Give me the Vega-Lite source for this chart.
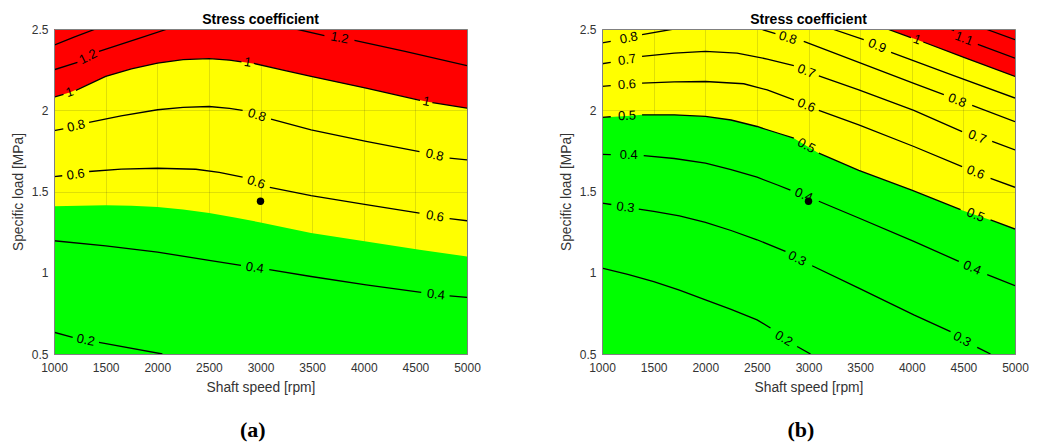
{
"$schema": "https://vega.github.io/schema/vega-lite/v6.json",
"padding": {"left": 10, "top": 12, "right": 5, "bottom": 5},
"config": {
 "font": "Liberation Sans",
 "view": {"fill": "#ffff00", "stroke": "#808080", "strokeWidth": 1},
 "style": {"cell": {"strokeForeground": true}},
 "axis": {"labelFont": "Liberation Sans", "labelFontSize": 12, "labelColor": "#333333", "titleFont": "Liberation Sans", "titleFontSize": 13.8, "titleFontWeight": "normal", "titleColor": "#333333", "ticks": false, "grid": true, "gridColor": "#262626", "gridOpacity": 0.15, "domainColor": "#808080", "zindex": 1},
 "concat": {"spacing": 77}
},
"datasets": {
 "fills": [
  {"p":"a","z":"r","x":1000,"y":2.081},{"p":"a","z":"r","x":1152,"y":2.11},{"p":"a","z":"r","x":1250,"y":2.137},{"p":"a","z":"r","x":1501,"y":2.208},{"p":"a","z":"r","x":1750,"y":2.255},{"p":"a","z":"r","x":2003,"y":2.29},{"p":"a","z":"r","x":2250,"y":2.312},{"p":"a","z":"r","x":2503,"y":2.318},{"p":"a","z":"r","x":2750,"y":2.305},{"p":"a","z":"r","x":3000,"y":2.28},{"p":"a","z":"r","x":3250,"y":2.243},{"p":"a","z":"r","x":3490,"y":2.208},{"p":"a","z":"r","x":4023,"y":2.136},{"p":"a","z":"r","x":4605,"y":2.054},{"p":"a","z":"r","x":5000,"y":2.013},
  {"p":"a","z":"g","x":1000,"y":1.409},{"p":"a","z":"g","x":1501,"y":1.415},{"p":"a","z":"g","x":1750,"y":1.413},{"p":"a","z":"g","x":2003,"y":1.404},{"p":"a","z":"g","x":2250,"y":1.39},{"p":"a","z":"g","x":2503,"y":1.367},{"p":"a","z":"g","x":2750,"y":1.34},{"p":"a","z":"g","x":3000,"y":1.31},{"p":"a","z":"g","x":3490,"y":1.244},{"p":"a","z":"g","x":4023,"y":1.193},{"p":"a","z":"g","x":4540,"y":1.142},{"p":"a","z":"g","x":5000,"y":1.1},
  {"p":"b","z":"r","x":3762,"y":2.5},{"p":"b","z":"r","x":4052,"y":2.434},{"p":"b","z":"r","x":4505,"y":2.325},{"p":"b","z":"r","x":5000,"y":2.208},
  {"p":"b","z":"g","x":1000,"y":1.956},{"p":"b","z":"g","x":1242,"y":1.965},{"p":"b","z":"g","x":1388,"y":1.972},{"p":"b","z":"g","x":1700,"y":1.972},{"p":"b","z":"g","x":2002,"y":1.962},{"p":"b","z":"g","x":2250,"y":1.94},{"p":"b","z":"g","x":2502,"y":1.9},{"p":"b","z":"g","x":2700,"y":1.86},{"p":"b","z":"g","x":2858,"y":1.828},{"p":"b","z":"g","x":2979,"y":1.782},{"p":"b","z":"g","x":3100,"y":1.736},{"p":"b","z":"g","x":3487,"y":1.63},{"p":"b","z":"g","x":4000,"y":1.508},{"p":"b","z":"g","x":4473,"y":1.388},{"p":"b","z":"g","x":4618,"y":1.355},{"p":"b","z":"g","x":4763,"y":1.325},{"p":"b","z":"g","x":5000,"y":1.269}
 ],
 "lines": [
  {"p":"a","id":"a14","x":1000,"y":2.4},{"p":"a","id":"a14","x":1200,"y":2.452},{"p":"a","id":"a14","x":1404,"y":2.5},
  {"p":"a","id":"a12s1","x":1000,"y":2.249},{"p":"a","id":"a12s1","x":1227,"y":2.295},
  {"p":"a","id":"a12s2","x":1436,"y":2.363},{"p":"a","id":"a12s2","x":1800,"y":2.438},{"p":"a","id":"a12s2","x":2100,"y":2.5},
  {"p":"a","id":"a12s3","x":3344,"y":2.5},{"p":"a","id":"a12s3","x":3619,"y":2.459},
  {"p":"a","id":"a12s4","x":3910,"y":2.43},{"p":"a","id":"a12s4","x":4400,"y":2.362},{"p":"a","id":"a12s4","x":5000,"y":2.274},
  {"p":"a","id":"a1s1","x":1000,"y":2.081},{"p":"a","id":"a1s1","x":1092,"y":2.098},
  {"p":"a","id":"a1s2","x":1212,"y":2.122},{"p":"a","id":"a1s2","x":1501,"y":2.208},{"p":"a","id":"a1s2","x":1750,"y":2.255},{"p":"a","id":"a1s2","x":2003,"y":2.29},{"p":"a","id":"a1s2","x":2250,"y":2.312},{"p":"a","id":"a1s2","x":2503,"y":2.318},{"p":"a","id":"a1s2","x":2700,"y":2.309},{"p":"a","id":"a1s2","x":2816,"y":2.298},
  {"p":"a","id":"a1s3","x":2936,"y":2.288},{"p":"a","id":"a1s3","x":3250,"y":2.243},{"p":"a","id":"a1s3","x":3490,"y":2.208},{"p":"a","id":"a1s3","x":4023,"y":2.136},{"p":"a","id":"a1s3","x":4545,"y":2.061},
  {"p":"a","id":"a1s4","x":4665,"y":2.047},{"p":"a","id":"a1s4","x":5000,"y":2.013},
  {"p":"a","id":"a08s1","x":1000,"y":1.875},{"p":"a","id":"a08s1","x":1090,"y":1.885},
  {"p":"a","id":"a08s2","x":1340,"y":1.925},{"p":"a","id":"a08s2","x":1650,"y":1.965},{"p":"a","id":"a08s2","x":2003,"y":2.003},{"p":"a","id":"a08s2","x":2250,"y":2.018},{"p":"a","id":"a08s2","x":2503,"y":2.023},{"p":"a","id":"a08s2","x":2700,"y":2.012},{"p":"a","id":"a08s2","x":2827,"y":1.999},
  {"p":"a","id":"a08s3","x":3102,"y":1.945},{"p":"a","id":"a08s3","x":3490,"y":1.879},{"p":"a","id":"a08s3","x":4023,"y":1.808},{"p":"a","id":"a08s3","x":4540,"y":1.746},
  {"p":"a","id":"a08s4","x":4831,"y":1.705},{"p":"a","id":"a08s4","x":5000,"y":1.694},
  {"p":"a","id":"a06s1","x":1000,"y":1.592},{"p":"a","id":"a06s1","x":1080,"y":1.597},
  {"p":"a","id":"a06s2","x":1340,"y":1.623},{"p":"a","id":"a06s2","x":1650,"y":1.638},{"p":"a","id":"a06s2","x":2003,"y":1.643},{"p":"a","id":"a06s2","x":2374,"y":1.637},{"p":"a","id":"a06s2","x":2600,"y":1.618},{"p":"a","id":"a06s2","x":2827,"y":1.588},
  {"p":"a","id":"a06s3","x":3090,"y":1.525},{"p":"a","id":"a06s3","x":3490,"y":1.475},{"p":"a","id":"a06s3","x":4023,"y":1.419},{"p":"a","id":"a06s3","x":4540,"y":1.367},
  {"p":"a","id":"a06s4","x":4831,"y":1.333},{"p":"a","id":"a06s4","x":5000,"y":1.32},
  {"p":"a","id":"a04s1","x":1000,"y":1.197},{"p":"a","id":"a04s1","x":1501,"y":1.166},{"p":"a","id":"a04s1","x":2003,"y":1.127},{"p":"a","id":"a04s1","x":2503,"y":1.076},{"p":"a","id":"a04s1","x":2811,"y":1.045},
  {"p":"a","id":"a04s2","x":3085,"y":1.019},{"p":"a","id":"a04s2","x":3490,"y":0.977},{"p":"a","id":"a04s2","x":4023,"y":0.926},{"p":"a","id":"a04s2","x":4557,"y":0.879},
  {"p":"a","id":"a04s3","x":4831,"y":0.858},{"p":"a","id":"a04s3","x":5000,"y":0.848},
  {"p":"a","id":"a02s1","x":1000,"y":0.634},{"p":"a","id":"a02s1","x":1181,"y":0.603},
  {"p":"a","id":"a02s2","x":1436,"y":0.572},{"p":"a","id":"a02s2","x":2050,"y":0.5},
  {"p":"b","id":"b12","x":4715,"y":2.5},{"p":"b","id":"b12","x":5000,"y":2.434},
  {"p":"b","id":"b11s1","x":4370,"y":2.5},{"p":"b","id":"b11s1","x":4410,"y":2.49},
  {"p":"b","id":"b11s2","x":4640,"y":2.405},{"p":"b","id":"b11s2","x":5000,"y":2.321},
  {"p":"b","id":"b1s1","x":3762,"y":2.5},{"p":"b","id":"b1s1","x":3992,"y":2.447},
  {"p":"b","id":"b1s2","x":4112,"y":2.42},{"p":"b","id":"b1s2","x":4505,"y":2.325},{"p":"b","id":"b1s2","x":5000,"y":2.208},
  {"p":"b","id":"b09s1","x":3229,"y":2.5},{"p":"b","id":"b09s1","x":3535,"y":2.434},
  {"p":"b","id":"b09s2","x":3800,"y":2.356},{"p":"b","id":"b09s2","x":4400,"y":2.215},{"p":"b","id":"b09s2","x":5000,"y":2.075},
  {"p":"b","id":"b08s1","x":1000,"y":2.414},{"p":"b","id":"b08s1","x":1085,"y":2.424},
  {"p":"b","id":"b08s2","x":1388,"y":2.465},{"p":"b","id":"b08s2","x":1695,"y":2.5},
  {"p":"b","id":"b08s3","x":2535,"y":2.5},{"p":"b","id":"b08s3","x":2680,"y":2.471},
  {"p":"b","id":"b08s4","x":2954,"y":2.424},{"p":"b","id":"b08s4","x":3487,"y":2.295},{"p":"b","id":"b08s4","x":4020,"y":2.166},{"p":"b","id":"b08s4","x":4311,"y":2.096},
  {"p":"b","id":"b08s5","x":4585,"y":2.03},{"p":"b","id":"b08s5","x":5000,"y":1.93},
  {"p":"b","id":"b07s1","x":1000,"y":2.286},{"p":"b","id":"b07s1","x":1085,"y":2.295},
  {"p":"b","id":"b07s2","x":1388,"y":2.332},{"p":"b","id":"b07s2","x":1700,"y":2.352},{"p":"b","id":"b07s2","x":2002,"y":2.362},{"p":"b","id":"b07s2","x":2308,"y":2.352},{"p":"b","id":"b07s2","x":2600,"y":2.315},{"p":"b","id":"b07s2","x":2858,"y":2.274},
  {"p":"b","id":"b07s3","x":3100,"y":2.212},{"p":"b","id":"b07s3","x":3487,"y":2.126},{"p":"b","id":"b07s3","x":4020,"y":1.999},{"p":"b","id":"b07s3","x":4488,"y":1.869},
  {"p":"b","id":"b07s4","x":4779,"y":1.808},{"p":"b","id":"b07s4","x":5000,"y":1.756},
  {"p":"b","id":"b06s1","x":1000,"y":2.147},{"p":"b","id":"b06s1","x":1085,"y":2.152},
  {"p":"b","id":"b06s2","x":1388,"y":2.167},{"p":"b","id":"b06s2","x":1700,"y":2.175},{"p":"b","id":"b06s2","x":2002,"y":2.177},{"p":"b","id":"b06s2","x":2373,"y":2.163},{"p":"b","id":"b06s2","x":2600,"y":2.125},{"p":"b","id":"b06s2","x":2858,"y":2.064},
  {"p":"b","id":"b06s3","x":3100,"y":1.999},{"p":"b","id":"b06s3","x":3487,"y":1.91},{"p":"b","id":"b06s3","x":4020,"y":1.777},{"p":"b","id":"b06s3","x":4488,"y":1.653},
  {"p":"b","id":"b06s4","x":4763,"y":1.581},{"p":"b","id":"b06s4","x":5000,"y":1.526},
  {"p":"b","id":"b05s1","x":1000,"y":1.956},{"p":"b","id":"b05s1","x":1085,"y":1.96},
  {"p":"b","id":"b05s2","x":1388,"y":1.972},{"p":"b","id":"b05s2","x":1700,"y":1.972},{"p":"b","id":"b05s2","x":2002,"y":1.962},{"p":"b","id":"b05s2","x":2250,"y":1.94},{"p":"b","id":"b05s2","x":2502,"y":1.9},{"p":"b","id":"b05s2","x":2700,"y":1.86},{"p":"b","id":"b05s2","x":2858,"y":1.828},
  {"p":"b","id":"b05s3","x":3100,"y":1.736},{"p":"b","id":"b05s3","x":3487,"y":1.63},{"p":"b","id":"b05s3","x":4000,"y":1.508},{"p":"b","id":"b05s3","x":4473,"y":1.388},
  {"p":"b","id":"b05s4","x":4763,"y":1.325},{"p":"b","id":"b05s4","x":5000,"y":1.269},
  {"p":"b","id":"b04s1","x":1000,"y":1.729},{"p":"b","id":"b04s1","x":1085,"y":1.727},
  {"p":"b","id":"b04s2","x":1404,"y":1.721},{"p":"b","id":"b04s2","x":1700,"y":1.703},{"p":"b","id":"b04s2","x":2002,"y":1.674},{"p":"b","id":"b04s2","x":2250,"y":1.635},{"p":"b","id":"b04s2","x":2502,"y":1.588},{"p":"b","id":"b04s2","x":2700,"y":1.54},{"p":"b","id":"b04s2","x":2825,"y":1.509},
  {"p":"b","id":"b04s3","x":3100,"y":1.44},{"p":"b","id":"b04s3","x":3487,"y":1.337},{"p":"b","id":"b04s3","x":4020,"y":1.193},{"p":"b","id":"b04s3","x":4456,"y":1.07},
  {"p":"b","id":"b04s4","x":4731,"y":0.988},{"p":"b","id":"b04s4","x":5000,"y":0.92},
  {"p":"b","id":"b03s1","x":1000,"y":1.429},{"p":"b","id":"b03s1","x":1090,"y":1.42},
  {"p":"b","id":"b03s2","x":1356,"y":1.392},{"p":"b","id":"b03s2","x":1501,"y":1.378},{"p":"b","id":"b03s2","x":1750,"y":1.35},{"p":"b","id":"b03s2","x":2002,"y":1.31},{"p":"b","id":"b03s2","x":2250,"y":1.26},{"p":"b","id":"b03s2","x":2502,"y":1.203},{"p":"b","id":"b03s2","x":2777,"y":1.131},
  {"p":"b","id":"b03s3","x":3035,"y":1.043},{"p":"b","id":"b03s3","x":3487,"y":0.905},{"p":"b","id":"b03s3","x":4020,"y":0.741},{"p":"b","id":"b03s3","x":4376,"y":0.638},
  {"p":"b","id":"b03s4","x":4634,"y":0.541},{"p":"b","id":"b03s4","x":4763,"y":0.5},
  {"p":"b","id":"b02s1","x":1000,"y":1.028},{"p":"b","id":"b02s1","x":1250,"y":0.99},{"p":"b","id":"b02s1","x":1501,"y":0.946},{"p":"b","id":"b02s1","x":1750,"y":0.893},{"p":"b","id":"b02s1","x":2002,"y":0.833},{"p":"b","id":"b02s1","x":2250,"y":0.775},{"p":"b","id":"b02s1","x":2502,"y":0.71},{"p":"b","id":"b02s1","x":2632,"y":0.66},
  {"p":"b","id":"b02s2","x":2890,"y":0.546},{"p":"b","id":"b02s2","x":3020,"y":0.5}
 ],
 "labels": [
  {"p":"a","t":"1.2","x":1331,"y":2.329,"slope":0.32},
  {"p":"a","t":"1.2","x":3765,"y":2.445,"slope":-0.12},
  {"p":"a","t":"1","x":1152,"y":2.11,"slope":0.22},
  {"p":"a","t":"1","x":2876,"y":2.295,"slope":-0.1},
  {"p":"a","t":"1","x":4605,"y":2.054,"slope":-0.13},
  {"p":"a","t":"0.8","x":1215,"y":1.903,"slope":0.15},
  {"p":"a","t":"0.8","x":2965,"y":1.97,"slope":-0.2},
  {"p":"a","t":"0.8","x":4686,"y":1.724,"slope":-0.14},
  {"p":"a","t":"0.6","x":1210,"y":1.605,"slope":0.09},
  {"p":"a","t":"0.6","x":2958,"y":1.556,"slope":-0.22},
  {"p":"a","t":"0.6","x":4690,"y":1.347,"slope":-0.11},
  {"p":"a","t":"0.4","x":2945,"y":1.03,"slope":-0.1},
  {"p":"a","t":"0.4","x":4700,"y":0.866,"slope":-0.08},
  {"p":"a","t":"0.2","x":1307,"y":0.585,"slope":-0.13},
  {"p":"b","t":"1.1","x":4505,"y":2.44,"slope":-0.24},
  {"p":"b","t":"1","x":4052,"y":2.434,"slope":-0.235},
  {"p":"b","t":"0.9","x":3665,"y":2.397,"slope":-0.27},
  {"p":"b","t":"0.8","x":1259,"y":2.445,"slope":0.13},
  {"p":"b","t":"0.8","x":2800,"y":2.445,"slope":-0.2},
  {"p":"b","t":"0.8","x":4440,"y":2.06,"slope":-0.24},
  {"p":"b","t":"0.7","x":1242,"y":2.31,"slope":0.1},
  {"p":"b","t":"0.7","x":2979,"y":2.24,"slope":-0.25},
  {"p":"b","t":"0.7","x":4634,"y":1.835,"slope":-0.25},
  {"p":"b","t":"0.6","x":1242,"y":2.158,"slope":0.05},
  {"p":"b","t":"0.6","x":2979,"y":2.03,"slope":-0.26},
  {"p":"b","t":"0.6","x":4618,"y":1.617,"slope":-0.26},
  {"p":"b","t":"0.5","x":1242,"y":1.965,"slope":0.03},
  {"p":"b","t":"0.5","x":2979,"y":1.782,"slope":-0.35},
  {"p":"b","t":"0.5","x":4618,"y":1.355,"slope":-0.25},
  {"p":"b","t":"0.4","x":1259,"y":1.725,"slope":0},
  {"p":"b","t":"0.4","x":2954,"y":1.478,"slope":-0.28},
  {"p":"b","t":"0.4","x":4585,"y":1.03,"slope":-0.28},
  {"p":"b","t":"0.3","x":1227,"y":1.403,"slope":-0.08},
  {"p":"b","t":"0.3","x":2890,"y":1.087,"slope":-0.33},
  {"p":"b","t":"0.3","x":4488,"y":0.59,"slope":-0.35},
  {"p":"b","t":"0.2","x":2761,"y":0.595,"slope":-0.38}
 ],
 "dots": [
  {"p":"a","x":3000,"y":1.44},
  {"p":"b","x":3000,"y":1.44}
 ]
},
"hconcat": [
 {
  "title": {"text": "(a)", "orient": "bottom", "anchor": "middle", "dx": 7, "font": "Liberation Serif", "fontSize": 22, "fontWeight": "bold", "color": "#000000", "offset": 26},
  "vconcat": [{
   "width": 413, "height": 325,
   "title": {"text": "Stress coefficient", "fontSize": 14, "fontWeight": "bold", "font": "Liberation Sans", "color": "#000000", "offset": -4},
   "encoding": {
    "x": {"field": "x", "type": "quantitative", "scale": {"domain": [1000, 5000], "nice": false, "zero": false}, "axis": {"title": "Shaft speed [rpm]", "values": [1000,1500,2000,2500,3000,3500,4000,4500,5000], "format": "d", "labelFlush": false, "labelPadding": 8, "titlePadding": 7}},
    "y": {"field": "y", "type": "quantitative", "scale": {"domain": [0.5, 2.5], "nice": false, "zero": false}, "axis": {"title": "Specific load [MPa]", "values": [0.5,1,1.5,2,2.5], "format": "~g", "labelPadding": 6, "titlePadding": 6}}
   },
   "layer": [
    {"data": {"name": "fills"}, "transform": [{"filter": "datum.p === 'a' && datum.z === 'r'"}], "mark": {"type": "area", "color": "#ff0000", "opacity": 1, "clip": true}, "encoding": {"y2": {"datum": 2.5}}},
    {"data": {"name": "fills"}, "transform": [{"filter": "datum.p === 'a' && datum.z === 'g'"}], "mark": {"type": "area", "color": "#00ff00", "opacity": 1, "clip": true}, "encoding": {"y2": {"datum": 0.5}}},
    {"data": {"name": "lines"}, "transform": [{"filter": "datum.p === 'a'"}], "mark": {"type": "line", "color": "#000000", "strokeWidth": 1.3, "clip": true}, "encoding": {"detail": {"field": "id", "type": "nominal"}}},
    {"data": {"name": "labels"}, "transform": [{"filter": "datum.p === 'a'"}], "mark": {"type": "text", "font": "Liberation Sans", "fontSize": 13, "color": "#000000", "align": "center", "baseline": "middle"}, "encoding": {"text": {"field": "t", "type": "nominal"}, "angle": {"field": "slope", "type": "quantitative", "scale": {"domain": [-0.8,-0.4,-0.2,0,0.2,0.4,0.8], "range": [51.5,32.2,17.5,0,-17.5,-32.2,-51.5]}, "legend": null}}},
    {"data": {"name": "dots"}, "transform": [{"filter": "datum.p === 'a'"}], "mark": {"type": "point", "filled": true, "color": "#000000", "opacity": 1, "size": 55}}
   ]
  }]
 },
 {
  "title": {"text": "(b)", "orient": "bottom", "anchor": "middle", "dx": 7, "font": "Liberation Serif", "fontSize": 22, "fontWeight": "bold", "color": "#000000", "offset": 26},
  "vconcat": [{
   "width": 413, "height": 325,
   "title": {"text": "Stress coefficient", "fontSize": 14, "fontWeight": "bold", "font": "Liberation Sans", "color": "#000000", "offset": -4},
   "encoding": {
    "x": {"field": "x", "type": "quantitative", "scale": {"domain": [1000, 5000], "nice": false, "zero": false}, "axis": {"title": "Shaft speed [rpm]", "values": [1000,1500,2000,2500,3000,3500,4000,4500,5000], "format": "d", "labelFlush": false, "labelPadding": 8, "titlePadding": 7}},
    "y": {"field": "y", "type": "quantitative", "scale": {"domain": [0.5, 2.5], "nice": false, "zero": false}, "axis": {"title": "Specific load [MPa]", "values": [0.5,1,1.5,2,2.5], "format": "~g", "labelPadding": 6, "titlePadding": 6}}
   },
   "layer": [
    {"data": {"name": "fills"}, "transform": [{"filter": "datum.p === 'b' && datum.z === 'r'"}], "mark": {"type": "area", "color": "#ff0000", "opacity": 1, "clip": true}, "encoding": {"y2": {"datum": 2.5}}},
    {"data": {"name": "fills"}, "transform": [{"filter": "datum.p === 'b' && datum.z === 'g'"}], "mark": {"type": "area", "color": "#00ff00", "opacity": 1, "clip": true}, "encoding": {"y2": {"datum": 0.5}}},
    {"data": {"name": "lines"}, "transform": [{"filter": "datum.p === 'b'"}], "mark": {"type": "line", "color": "#000000", "strokeWidth": 1.3, "clip": true}, "encoding": {"detail": {"field": "id", "type": "nominal"}}},
    {"data": {"name": "labels"}, "transform": [{"filter": "datum.p === 'b'"}], "mark": {"type": "text", "font": "Liberation Sans", "fontSize": 13, "color": "#000000", "align": "center", "baseline": "middle"}, "encoding": {"text": {"field": "t", "type": "nominal"}, "angle": {"field": "slope", "type": "quantitative", "scale": {"domain": [-0.8,-0.4,-0.2,0,0.2,0.4,0.8], "range": [51.5,32.2,17.5,0,-17.5,-32.2,-51.5]}, "legend": null}}},
    {"data": {"name": "dots"}, "transform": [{"filter": "datum.p === 'b'"}], "mark": {"type": "point", "filled": true, "color": "#000000", "opacity": 1, "size": 55}}
   ]
  }]
 }
]
}
